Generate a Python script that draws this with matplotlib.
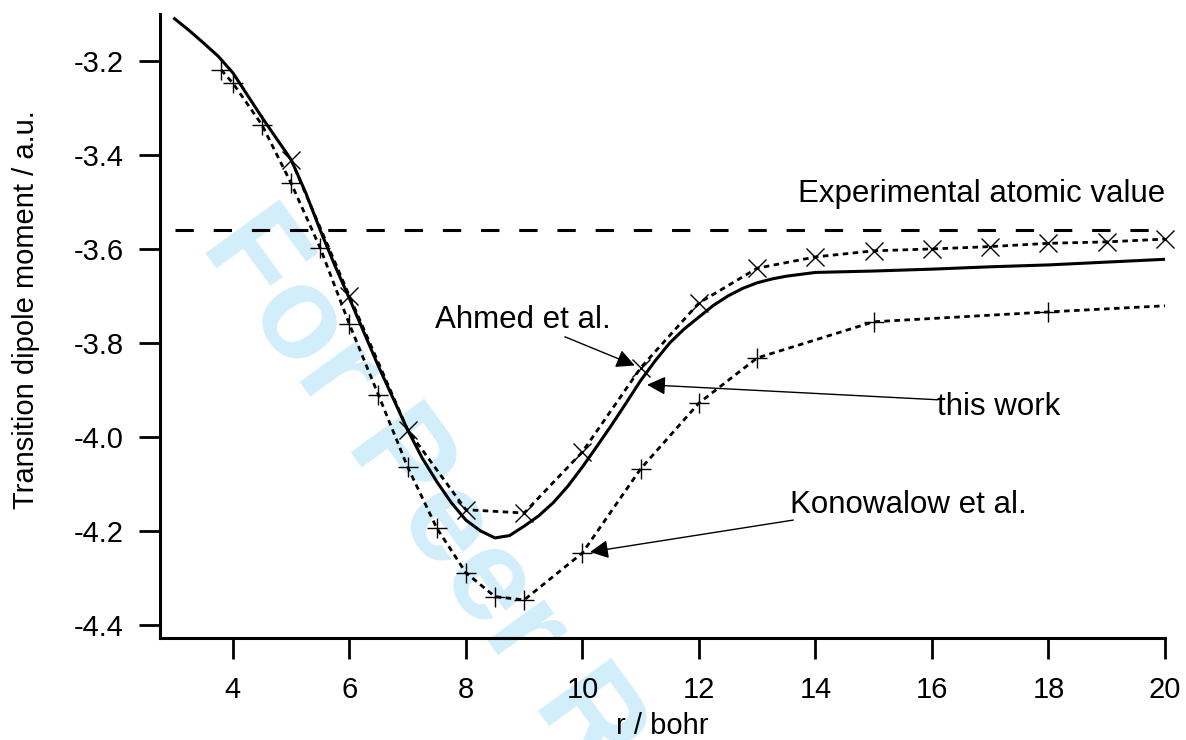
import matplotlib
matplotlib.use("Agg")
import matplotlib.pyplot as plt
import numpy as np

plt.rcParams['font.family'] = ['Liberation Sans', 'DejaVu Sans']

# this work (solid curve)
r_work = [3.0, 3.25, 3.5, 3.75, 4.0, 4.5, 5.0, 5.25, 5.5, 5.75, 6.0, 6.5, 7.0, 7.25,
          7.5, 7.75, 8.0, 8.25, 8.5, 8.75, 9.0, 9.25, 9.5, 9.75, 10.0, 10.25, 10.5,
          10.75, 11.0, 11.25, 11.5, 11.75, 12.0, 12.25, 12.5, 12.75, 13.0, 13.25,
          13.5, 14.0, 15.0, 16.0, 17.0, 18.0, 19.0, 20.0]
d_work = [-3.11, -3.135, -3.162, -3.19, -3.225, -3.32, -3.41, -3.48, -3.56, -3.635,
          -3.705, -3.85, -3.985, -4.045, -4.095, -4.14, -4.177, -4.20, -4.215, -4.21,
          -4.19, -4.168, -4.14, -4.105, -4.064, -4.02, -3.975, -3.928, -3.88, -3.838,
          -3.80, -3.77, -3.745, -3.72, -3.70, -3.684, -3.672, -3.664, -3.658, -3.65,
          -3.647, -3.643, -3.638, -3.634, -3.628, -3.622]

# Ahmed et al.
r_ahmed = [5, 6, 7, 8, 9, 10, 11, 12, 13, 14, 15, 16, 17, 18, 19, 20]
d_ahmed = [-3.41, -3.70, -3.985, -4.155, -4.162, -4.032, -3.853, -3.715, -3.641,
           -3.617, -3.604, -3.600, -3.595, -3.588, -3.585, -3.579]

# Konowalow et al.
r_kono = [3.8, 4.0, 4.5, 5.0, 5.5, 6.0, 6.5, 7.0, 7.5, 8.0, 8.5, 9.0, 10.0, 11.0,
          12.0, 13.0, 15.0, 18.0, 20.0]
d_kono = [-3.219, -3.247, -3.336, -3.46, -3.598, -3.76, -3.911, -4.064, -4.194,
          -4.289, -4.34, -4.347, -4.247, -4.068, -3.928, -3.832, -3.755, -3.734, -3.721]

exp_value = -3.56

fig = plt.figure(figsize=(11.86, 7.4), dpi=100)
ax = fig.add_axes([160/1186, 1 - 638/740, (1165-160)/1186, (638-14)/740])
ax.patch.set_alpha(0)

# watermark
ax.text(200/1186, 1 - 245/740, "For Peer Review", transform=fig.transFigure,
        rotation=-54, rotation_mode='anchor', ha='left', va='baseline',
        fontsize=94, fontweight='bold', color='#d2eefb', clip_on=False, zorder=0.5)

ax.plot([3.0, 20.0], [exp_value, exp_value], color='k', lw=2.2, dashes=(6, 6.5))
ax.plot(r_work, d_work, color='k', lw=2.2)
ax.plot(r_ahmed, d_ahmed, color='k', lw=2, dashes=(2, 1.6),
        marker='x', ms=13, mew=1, clip_on=False)
ax.plot(r_kono, d_kono, color='k', lw=2, dashes=(2, 1.6),
        marker='+', ms=14, mew=1, markevery=list(range(len(r_kono) - 1)))

fs = 22.5
ax.text(20.0, -3.50, "Experimental atomic value", ha='right', va='baseline', fontsize=fs)
ax.text(7.47, -3.768, "Ahmed et al.", ha='left', va='baseline', fontsize=fs)
ax.text(16.09, -3.953, "this work", ha='left', va='baseline', fontsize=fs)
ax.text(13.56, -4.162, "Konowalow et al.", ha='left', va='baseline', fontsize=fs)

arrow = dict(arrowstyle='-|>', color='k', lw=1, mutation_scale=28,
             shrinkA=0, shrinkB=0)
ax.annotate("", xy=(10.9, -3.848), xytext=(9.70, -3.787), arrowprops=arrow)
ax.annotate("", xy=(11.11, -3.889), xytext=(16.1, -3.921), arrowprops=arrow)
ax.annotate("", xy=(10.13, -4.245), xytext=(13.62, -4.177), arrowprops=arrow)

ax.set_xlim(2.75, 20)
ax.set_ylim(-4.428, -3.10)
ax.set_xticks(np.arange(4, 21, 2))
ax.set_yticks([-3.2, -3.4, -3.6, -3.8, -4.0, -4.2, -4.4])
ax.set_yticklabels(['-3.2', '-3.4', '-3.6', '-3.8', '-4.0', '-4.2', '-4.4'])

for s in ['top', 'right']:
    ax.spines[s].set_visible(False)
for s in ['left', 'bottom']:
    ax.spines[s].set_linewidth(2.2)
ax.tick_params(axis='both', direction='out', length=15, width=2, labelsize=21)
ax.tick_params(axis='y', pad=11)
ax.tick_params(axis='x', pad=12)

ax.set_xlabel("r / bohr", fontsize=21, labelpad=6)
ax.set_ylabel("Transition dipole moment / a.u.", fontsize=21)
ax.yaxis.set_label_coords(-0.119, 0.526)

fig.savefig("out.png", dpi=100)
